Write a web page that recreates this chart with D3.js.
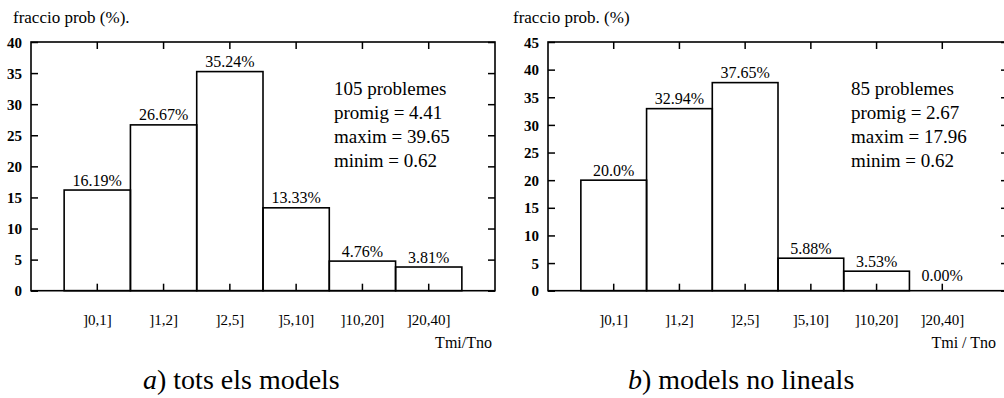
<!DOCTYPE html>
<html>
<head>
<meta charset="utf-8">
<script src="https://cdn.jsdelivr.net/npm/d3@7"></script>
<style>
  body { margin: 0; background: #fff; }
  svg { display: block; }
</style>
</head>
<body>
<div id="chart"></div>
<script>
// data
const categories = ["]0,1]", "]1,2]", "]2,5]", "]5,10]", "]10,20]", "]20,40]"];
const valuesA = [16.19, 26.67, 35.24, 13.33, 4.76, 3.81];
const valuesB = [20.0, 32.94, 37.65, 5.88, 3.53, 0.00];
const labelsA = ["16.19%", "26.67%", "35.24%", "13.33%", "4.76%", "3.81%"];
const labelsB = ["20.0%", "32.94%", "37.65%", "5.88%", "3.53%", "0.00%"];
const yTicksA = [0, 5, 10, 15, 20, 25, 30, 35, 40];
const yTicksB = [0, 5, 10, 15, 20, 25, 30, 35, 40, 45];
const statsA = ["105 problemes", "promig = 4.41", "maxim = 39.65", "minim = 0.62"];
const statsB = ["85 problemes", "promig = 2.67", "maxim = 17.96", "minim = 0.62"];

const FONT = "Liberation Serif";
const width = 1004, height = 398;
const svg = d3.select("#chart").append("svg")
  .attr("width", width)
  .attr("height", height)
  .attr("font-family", FONT);

function label(g, x, y, txt, size, anchor) {
  return g.append("text")
    .attr("x", x)
    .attr("y", y)
    .attr("text-anchor", anchor || "start")
    .attr("font-family", FONT)
    .attr("font-size", size)
    .attr("fill", "#000")
    .text(txt);
}

function panel(opt) {
  const top = 42, bottom = 290.7;
  const g = svg.append("g");

  let xScale = d3.scaleBand()
    .domain(categories)
    .range([opt.x0, opt.x1])
    .paddingInner(0)
    .paddingOuter(0.5);

  let yScale = d3.scaleLinear()
    .domain([0, opt.yMax])
    .range([bottom, top]);

  // bars
  g.selectAll("rect.bar")
    .data(opt.values)
    .enter()
    .append("rect")
    .attr("class", "bar")
    .attr("x", (d, i) => xScale(categories[i]))
    .attr("y", d => yScale(d))
    .attr("width", xScale.bandwidth())
    .attr("height", d => bottom - yScale(d))
    .attr("fill", "none")
    .attr("stroke", "#000")
    .attr("stroke-width", 1.6);

  // value labels above bars
  opt.labels.forEach((t, i) => {
    let yy = Math.min(yScale(opt.values[i]), yScale(1)) - 4.5;
    label(g, xScale(categories[i]) + xScale.bandwidth() / 2, yy, t, 16, "middle");
  });

  // frame
  g.append("rect")
    .attr("x", opt.x0).attr("y", top)
    .attr("width", opt.x1 - opt.x0).attr("height", bottom - top)
    .attr("fill", "none").attr("stroke", "#000").attr("stroke-width", 1.6);

  // y axis, ticks pointing inward
  let yAxis = d3.axisLeft(yScale).tickValues(opt.yTicks).tickSize(-7).tickPadding(9);
  let ya = g.append("g").attr("transform", `translate(${opt.x0},0)`).call(yAxis);
  ya.attr("font-family", FONT).attr("font-size", 15).attr("font-weight", "bold");
  ya.select(".domain").remove();
  ya.selectAll("text").attr("dy", "0.34em");

  let yRight = d3.axisRight(yScale).tickValues(opt.yTicks).tickSize(-7).tickFormat("");
  g.append("g").attr("transform", `translate(${opt.x1},0)`).call(yRight)
    .select(".domain").remove();

  // x ticks on top and bottom at band centres
  let xTop = d3.axisTop(xScale).tickSize(-7).tickFormat("");
  g.append("g").attr("transform", `translate(0,${top})`).call(xTop)
    .select(".domain").remove();

  let xAxis = d3.axisBottom(xScale).tickSize(-7);
  let xa = g.append("g").attr("transform", `translate(0,${bottom})`).call(xAxis);
  xa.attr("font-family", FONT).attr("font-size", 15);
  xa.select(".domain").remove();
  xa.selectAll("text")
    .attr("y", 34)
    .attr("dy", 0);

  g.selectAll(".tick line").attr("stroke", "#000").attr("stroke-width", 1.5);

  // axis titles
  label(g, opt.titleX, 23, opt.title, 17);
  label(g, opt.unitX, 348, opt.unit, 16, "end");

  // stats block
  opt.stats.forEach((s, i) => {
    label(g, opt.statsX, 95 + i * 24, s, 19);
  });

  // caption below the panel
  let cap = g.append("text")
    .attr("x", opt.capX)
    .attr("y", 389)
    .attr("font-family", FONT)
    .attr("font-size", 28);
  cap.append("tspan").attr("font-style", "italic").text(opt.capLetter);
  cap.append("tspan").text(") " + opt.caption);
}

panel({
  x0: 31, x1: 495, yMax: 40, yTicks: yTicksA,
  values: valuesA, labels: labelsA, stats: statsA, statsX: 334,
  title: "fraccio prob (%).", titleX: 13,
  unit: "Tmi/Tno", unitX: 492,
  capLetter: "a", caption: "tots els models", capX: 143
});

panel({
  x0: 548, x1: 1008, yMax: 45, yTicks: yTicksB,
  values: valuesB, labels: labelsB, stats: statsB, statsX: 851,
  title: "fraccio prob. (%)", titleX: 513,
  unit: "Tmi / Tno", unitX: 996,
  capLetter: "b", caption: "models no lineals", capX: 628
});
</script>
</body>
</html>
